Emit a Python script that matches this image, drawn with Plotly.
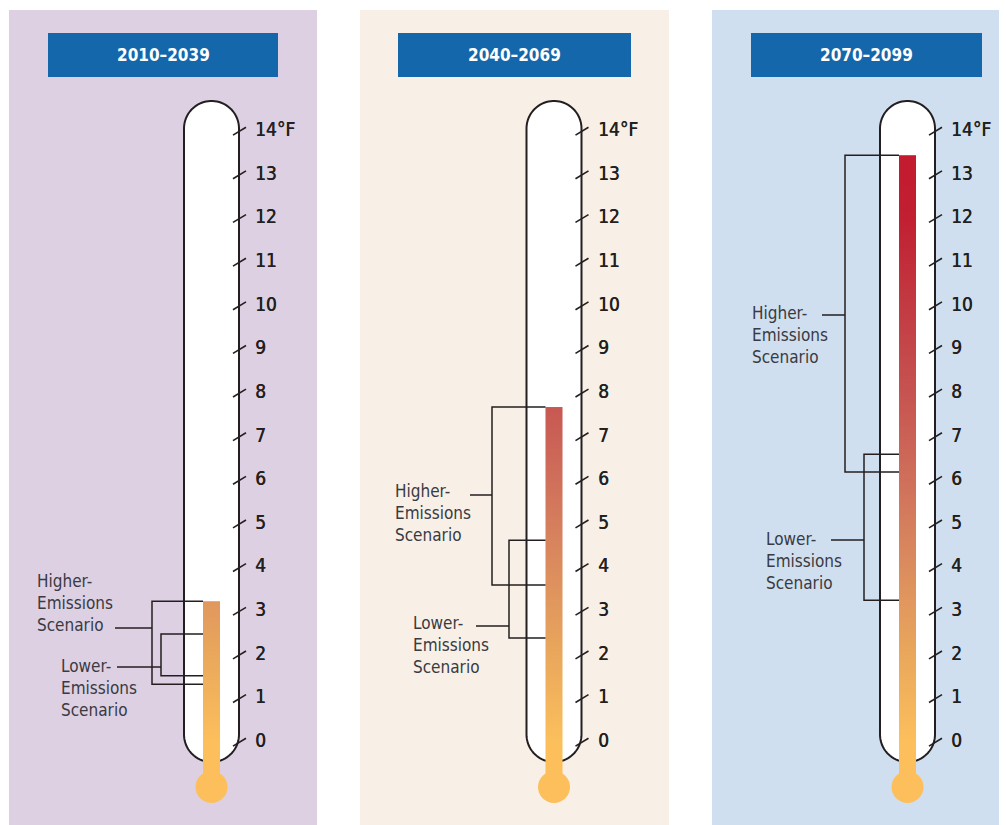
import numpy as np
import plotly.graph_objects as go

# projected warming, degrees F
periods = ["2010–2039", "2040–2069", "2070–2099"]
higher_low = [1.28, 3.55, 6.14]
higher_high = [3.18, 7.63, 13.4]
lower_low = [1.47, 2.34, 3.2]
lower_high = [2.43, 4.58, 6.55]
tick_values = list(range(0, 15))
tick_labels = [str(v) for v in tick_values[:-1]] + ["14°F"]

# mercury colour by temperature
grad_vals = [0, 2, 4, 6, 8, 10, 12, 13.5]
grad_cols = ["#fcbf5c", "#e9a75c", "#db8c5e", "#cf6f5b", "#c65350", "#c23a42", "#c11f32", "#c41a2e"]

# page geometry (px on the 1007x825 page); the page body adds an 8px margin
W, H = 1007, 825
OFF = 8
PX = 43.64   # px per degree
Y0 = 740     # px row of 0 deg


def deg(py):
    return (Y0 - py) / PX


panel_x = [(9, 317), (360, 669), (712, 1007)]
panel_bg = ["#ddd0e3", "#f8f0e6", "#d0dfef"]
box_x = [(48, 278), (398, 631), (751, 982)]
tube_cx = [211.5, 554, 907.5]
TUBE_R = 27.5
BAR_HW = 8.5
hi_bx = [152, 492, 845]
lo_bx = [161, 509, 864]
# label left x, label middle y, connector start x, connector y
hi_lab = [(37, 603, 115, 628), (395, 513, 470, 495), (752, 335, 822, 315)]
lo_lab = [(61, 688, 117, 667), (413, 645, 476, 626), (766, 561, 831, 540)]

FONT = "DejaVu Sans Condensed, Liberation Sans Narrow, sans-serif"
INK = "#231f20"

fig = go.Figure()
shapes = []
annotations = []

cscale = [[v / grad_vals[-1], c] for v, c in zip(grad_vals, grad_cols)]

for i in range(3):
    # panel background and title box
    shapes.append(dict(type="rect", xref="x", yref="y", x0=panel_x[i][0], x1=panel_x[i][1],
                       y0=deg(H + 5), y1=deg(10), fillcolor=panel_bg[i], line_width=0, layer="below"))
    shapes.append(dict(type="rect", xref="x", yref="y", x0=box_x[i][0], x1=box_x[i][1],
                       y0=deg(77), y1=deg(33), fillcolor="#1467ab", line_width=0, layer="below"))
    annotations.append(dict(x=(box_x[i][0] + box_x[i][1]) / 2, y=deg(55), xref="x", yref="y",
                            text="<b>%s</b>" % periods[i], showarrow=False,
                            xanchor="center", yanchor="middle",
                            font=dict(family=FONT, size=17, color="white")))

    # glass tube
    cx = tube_cx[i]
    top_c, bot_c = deg(128.5), deg(734.5)
    ry = TUBE_R / PX
    pts = [(cx - TUBE_R, bot_c)]
    for t in np.linspace(np.pi, 0, 40):
        pts.append((cx + TUBE_R * np.cos(t), top_c + ry * np.sin(t)))
    for t in np.linspace(0, -np.pi, 40):
        pts.append((cx + TUBE_R * np.cos(t), bot_c + ry * np.sin(t)))
    path = "M " + " L ".join("%.2f,%.4f" % p for p in pts) + " Z"
    shapes.append(dict(type="path", path=path, xref="x", yref="y", fillcolor="white",
                       line=dict(color=INK, width=2), layer="below"))

    # bulb
    bulb_y = deg(787)
    shapes.append(dict(type="circle", xref="x", yref="y", x0=cx - 16, x1=cx + 16,
                       y0=bulb_y - 16 / PX, y1=bulb_y + 16 / PX, fillcolor=grad_cols[0],
                       line_width=0, layer="below"))

    # mercury column, coloured by temperature
    edges = np.append(np.arange(bulb_y, higher_high[i], 0.02), higher_high[i])
    mids = (edges[:-1] + edges[1:]) / 2
    fig.add_trace(go.Heatmap(x=[cx - BAR_HW, cx + BAR_HW], y=edges,
                             z=np.clip(mids, 0, None).reshape(-1, 1),
                             colorscale=cscale, zmin=0, zmax=grad_vals[-1],
                             showscale=False, hoverinfo="skip"))

    # slanted tick marks and labels on the right of the tube
    xr = cx + TUBE_R
    tx, ty = [], []
    for v in tick_values:
        tx += [xr - 6, xr + 7, None]
        ty += [v - 0.05 - 0.09, v - 0.05 + 0.09, None]
    fig.add_trace(go.Scatter(x=tx, y=ty, mode="lines", line=dict(color=INK, width=1.6),
                             hoverinfo="skip"))
    for v, lab in zip(tick_values, tick_labels):
        annotations.append(dict(x=xr + 14, y=v, xref="x", yref="y", text=lab, showarrow=False,
                                xanchor="left", yanchor="middle",
                                font=dict(family=FONT, size=19, color=INK,
                                          shadow="0.4px 0px 0px %s" % INK)))

    # scenario brackets
    bl = cx - BAR_HW
    for bx, lo, hi, lab, name in [(hi_bx[i], higher_low[i], higher_high[i], hi_lab[i], "Higher-"),
                                  (lo_bx[i], lower_low[i], lower_high[i], lo_lab[i], "Lower-")]:
        lx, ly, kx, ky = lab
        fig.add_trace(go.Scatter(x=[bl, bx, bx, bl, None, kx, bx],
                                 y=[hi, hi, lo, lo, None, deg(ky), deg(ky)],
                                 mode="lines", line=dict(color=INK, width=1.5), hoverinfo="skip"))
        annotations.append(dict(x=lx - 2, y=deg(ly), xref="x", yref="y", showarrow=False,
                                text=name + "<br>Emissions<br>Scenario", align="left",
                                xanchor="left", yanchor="middle",
                                font=dict(family=FONT, size=17, color="#3a3a42")))

fig.update_layout(
    width=W - OFF, height=H - OFF,
    margin=dict(l=0, r=0, t=0, b=0, pad=0),
    paper_bgcolor="white", plot_bgcolor="white",
    showlegend=False,
    xaxis=dict(range=[OFF, W], visible=False, fixedrange=True),
    yaxis=dict(range=[deg(H), deg(OFF)], visible=False, fixedrange=True),
    shapes=shapes, annotations=annotations,
)

fig.write_html("out.html")
